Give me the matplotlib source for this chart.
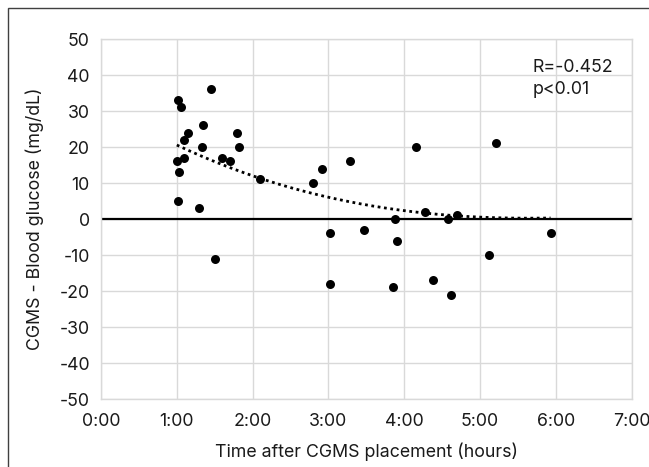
import numpy as np
import matplotlib
matplotlib.use("Agg")
import matplotlib.patches as mp
from matplotlib import pyplot as plt

# hours after CGMS placement and CGMS - blood glucose difference (mg/dL)
HOURS = [1.01, 1.05, 1.45, 1.35, 1.15, 1.10, 1.33, 1.79, 1.82, 1.00,
         1.10, 1.03, 1.60, 1.70, 2.10, 1.01, 1.29, 1.51, 2.80, 2.92,
         3.29, 4.16, 4.27, 3.88, 4.58, 4.70, 3.02, 3.47, 3.91, 3.02,
         3.85, 4.38, 4.62, 5.21, 5.93, 5.12]
DIFF = [33, 31, 36, 26, 24, 22, 20, 24, 20, 16,
        17, 13, 17, 16, 11, 5, 3, -11, 10, 14,
        16, 20, 2, 0, 0, 1, -4, -3, -6, -18,
        -19, -17, -21, 21, -4, -10]
# trendline values
TREND_H = [1.0, 2.0, 3.0, 4.0, 5.0, 5.93]
TREND_V = [20.6, 11.8, 6.3, 2.2, 0.5, 0.3]
XTICKS = [0, 1, 2, 3, 4, 5, 6, 7]
XLABELS = ["0:00", "1:00", "2:00", "3:00", "4:00", "5:00", "6:00", "7:00"]
YTICKS = list(range(-50, 51, 10))

plt.rcParams["font.family"] = ["Inter", "DejaVu Sans"]
plt.rcParams["axes.unicode_minus"] = False
TEXTCOL = "#1a1a1a"
GRIDCOL = "#d9d9d9"
FS = 12.8

fig = plt.figure(figsize=(6.49, 4.67), dpi=100)
ax = fig.add_axes([101 / 649, 68 / 467, 530.7 / 649, 360 / 467])

ax.set_xlim(0, 7)
ax.set_ylim(-50, 50)
ax.set_xticks(XTICKS)
ax.set_xticklabels(XLABELS)
ax.set_yticks(YTICKS)
ax.grid(True, color=GRIDCOL, linewidth=1.0)
ax.set_axisbelow(True)
for s in ax.spines.values():
    s.set_color(GRIDCOL)
    s.set_linewidth(1.0)
ax.tick_params(length=0, labelsize=FS, colors=TEXTCOL, pad=8)
ax.tick_params(axis="x", pad=10)

ax.axhline(0, color="black", linewidth=1.6, zorder=2)

ax.scatter(HOURS, DIFF, s=42, color="black", zorder=3, linewidths=0)

# smooth dotted trendline through the read values
tx = np.linspace(min(HOURS), max(HOURS), 200)
ct = np.polyfit(TREND_H, TREND_V, 3)
ax.plot(tx, np.polyval(ct, tx), color="black", linewidth=2.0,
        linestyle=(0, (1, 1.3)), zorder=4)

ax.text(5.69, 42.2, "R=-0.452", fontsize=FS, color=TEXTCOL, va="center")
ax.text(5.69, 36.1, "p<0.01", fontsize=FS, color=TEXTCOL, va="center")

ax.set_ylabel("CGMS - Blood glucose (mg/dL)", fontsize=FS, color=TEXTCOL, labelpad=11)
ax.set_xlabel("Time after CGMS placement (hours)", fontsize=FS, color=TEXTCOL, labelpad=9)

# outer frame, cut off at right and bottom
fig.patches.append(mp.Rectangle((8 / 649, -0.1), 1.1, 1 - 8 / 467 + 0.1,
                                transform=fig.transFigure, fill=False,
                                edgecolor="#404040", linewidth=1.0))

fig.savefig("out.png", dpi=100)
